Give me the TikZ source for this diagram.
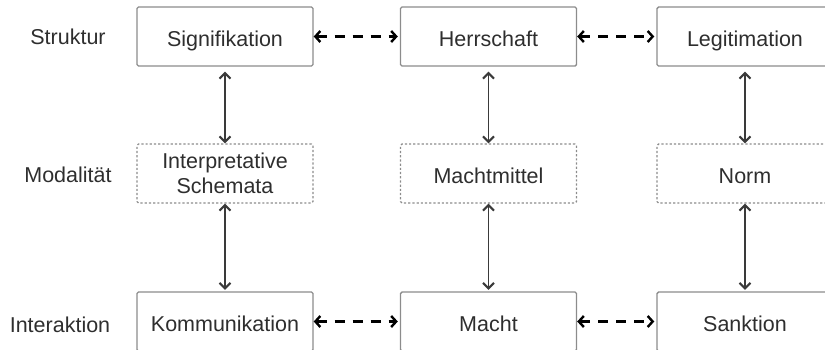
\documentclass[tikz,border=0pt]{standalone}
\usepackage{fontspec}
\setmainfont{Liberation Sans}
\usetikzlibrary{arrows.meta}
\definecolor{boxline}{HTML}{8C8C8C}
\definecolor{txt}{HTML}{2E2E2E}
\definecolor{vline}{HTML}{3A3A3A}
\begin{document}
\begin{tikzpicture}[x=1pt,y=-1pt,
  every node/.style={font=\fontsize{21.5}{25}\selectfont, text=txt},
  boxbase/.style={draw=boxline, line width=1.4pt, rounded corners=1.5pt,
    minimum width=176pt, minimum height=59pt, inner sep=0pt, align=center},
  solidbox/.style={boxbase, text height=23.5pt, text depth=4.5pt},
  dotbox/.style={solidbox, dash pattern=on 2.2pt off 2pt},
  dotboxtwo/.style={boxbase, dash pattern=on 2.2pt off 2pt},
  rowlabel/.style={anchor=center, inner sep=0pt, text height=23.5pt, text depth=4.5pt},
  vlink/.style={draw=vline, line width=1.7pt,
    {Straight Barb[length=5.5pt,width=11pt,line width=2pt]}-{Straight Barb[length=5.5pt,width=11pt,line width=2pt]}},
  hlink/.style={draw=black, line width=2.4pt, dash pattern=on 10pt off 8pt,
    {Straight Barb[length=5pt,width=11pt,line width=2.4pt]}-{Straight Barb[length=5pt,width=11pt,line width=2.4pt]}}
]
\clip (0,0) rectangle (825,349);
\useasboundingbox (0,0) rectangle (825,349);

% row labels
\node[rowlabel] (lstr) at (68,34.5) {Struktur};
\node[rowlabel] (lmod) at (68,172.5) {Modalität};
\node[rowlabel] (lint) at (60,322.5) {Interaktion};

% structure row
\node[solidbox] (sig) at (225,36.5) {Signifikation};
\node[solidbox] (her) at (488.5,36.5) {Herrschaft};
\node[solidbox] (leg) at (745,36.5) {Legitimation};

% modality row
\node[dotboxtwo] (int) at (225,173.5) {Interpretative\\Schemata};
\node[dotbox] (mm) at (488.5,173.5) {Machtmittel};
\node[dotbox] (norm) at (745,173.5) {Norm};

% interaction row
\node[solidbox] (kom) at (225,321.5) {Kommunikation};
\node[solidbox] (mac) at (488.5,321.5) {Macht};
\node[solidbox] (san) at (745,321.5) {Sanktion};

% vertical links
\draw[vlink, shorten <=5pt] (sig) -- (int);
\draw[vlink, shorten <=5pt] (her) -- (mm);
\draw[vlink, shorten <=5pt] (leg) -- (norm);
\draw[vlink, shorten >=1.5pt] (int) -- (kom);
\draw[vlink, shorten >=1.5pt] (mm) -- (mac);
\draw[vlink, shorten >=1.5pt] (norm) -- (san);

% horizontal links
\draw[hlink, shorten >=2pt] (sig.east) -- (her.west);
\draw[hlink, shorten >=2pt] (her.east) -- (leg.west);
\draw[hlink, shorten >=2pt] (kom.east) -- (mac.west);
\draw[hlink, shorten >=2pt] (mac.east) -- (san.west);
\end{tikzpicture}
\end{document}
